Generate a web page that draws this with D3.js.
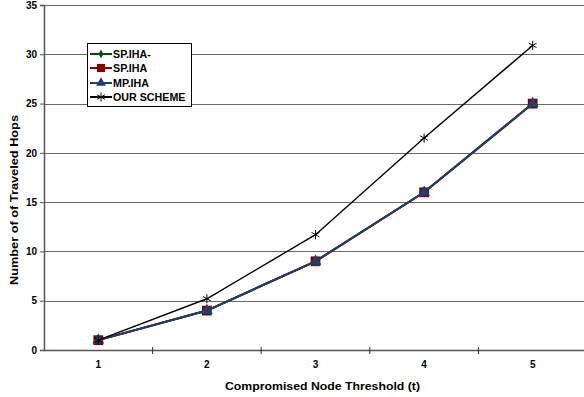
<!DOCTYPE html>
<html>
<head>
<meta charset="utf-8">
<script src="https://cdn.jsdelivr.net/npm/d3@7"></script>
<style>
body { margin: 0; background: #fff; }
svg { font-family: "Liberation Sans", Arial, sans-serif; font-weight: bold; }
</style>
</head>
<body>
<svg id="chart" width="584" height="397"></svg>
<script>
var thresholds = [1, 2, 3, 4, 5]
var yTicks = [0, 5, 10, 15, 20, 25, 30, 35]
var spIhaMinus = [1, 4, 9, 16, 25]
var spIha = [1, 4, 9, 16, 25]
var mpIha = [1, 4, 9, 16, 25]
var ourScheme = [1, 5.2, 11.7, 21.5, 30.9]

var series = [
    {name: "SP.IHA-", values: spIhaMinus, color: "#004d00", symbol: d3.symbolDiamond, size: 30, width: 2},
    {name: "SP.IHA", values: spIha, color: "#800000", symbol: d3.symbolSquare, size: 95, width: 2},
    {name: "MP.IHA", values: mpIha, color: "#1f3f6e", symbol: d3.symbolTriangle, size: 60, width: 2},
    {name: "OUR SCHEME", values: ourScheme, color: "#000000", symbol: "star", size: 0, width: 1.4}
]

var svg = d3.select("#chart")
var mLeft = 44, mRight = 587, mTop = 5, mBottom = 350

var x = d3.scaleBand().domain(thresholds).range([mLeft, mRight])
var y = d3.scaleLinear().domain([0, 35]).range([mBottom, mTop])

// gridlines
svg.append("g")
    .selectAll("line")
    .data(yTicks.filter(d => d > 0))
    .enter().append("line")
    .attr("x1", mLeft).attr("x2", 584)
    .attr("y1", d => Math.round(y(d)) + 0.5).attr("y2", d => Math.round(y(d)) + 0.5)
    .attr("stroke", "#6a6a6a").attr("stroke-width", 1)

// y axis
var yAxis = svg.append("g")
    .attr("transform", "translate(" + mLeft + ",0)")
    .call(d3.axisLeft(y).tickValues(yTicks).tickSize(4).tickPadding(3))
yAxis.select(".domain").attr("stroke", "#555").attr("stroke-width", 1.5)
yAxis.selectAll(".tick line").attr("stroke", "#555")
yAxis.selectAll("text").attr("font-size", 10).attr("fill", "#000")
    .attr("font-family", "Liberation Sans, Arial, sans-serif").attr("font-weight", "bold")

// x axis
var xAxis = svg.append("g")
    .attr("transform", "translate(0," + mBottom + ")")
    .call(d3.axisBottom(x).tickSize(0).tickPadding(11))
xAxis.select(".domain").attr("stroke", "#555").attr("stroke-width", 1.5)
xAxis.selectAll("text").attr("font-size", 10).attr("fill", "#000")
    .attr("font-family", "Liberation Sans, Arial, sans-serif").attr("font-weight", "bold")
svg.append("g")
    .selectAll("line")
    .data(thresholds.slice(1))
    .enter().append("line")
    .attr("x1", d => x(d)).attr("x2", d => x(d))
    .attr("y1", mBottom - 3).attr("y2", mBottom + 4)
    .attr("stroke", "#333")

// axis titles
svg.append("text")
    .attr("x", 225).attr("y", 390)
    .attr("font-size", 11.5)
    .attr("textLength", 195).attr("lengthAdjust", "spacingAndGlyphs")
    .text("Compromised Node Threshold (t)")
svg.append("text")
    .attr("transform", "translate(18,285) rotate(-90)")
    .attr("font-size", 11.5)
    .attr("textLength", 170).attr("lengthAdjust", "spacingAndGlyphs")
    .text("Number of of Traveled Hops")

var cx = d => x(d) + x.bandwidth() / 2

function drawMarker(g, s, px, py) {
    if (s.symbol === "star") {
        var r = 4.5
        var path = ""
        for (var i = 0; i < 3; i++) {
            var a = Math.PI / 2 + i * Math.PI / 3
            path += "M" + (px + r * Math.cos(a)) + "," + (py + r * Math.sin(a)) +
                "L" + (px - r * Math.cos(a)) + "," + (py - r * Math.sin(a))
        }
        g.append("path").attr("d", path).attr("stroke", "#000").attr("stroke-width", 1).attr("fill", "none")
    } else {
        g.append("path")
            .attr("d", d3.symbol().type(s.symbol).size(s.size)())
            .attr("transform", "translate(" + px + "," + py + ")")
            .attr("fill", s.color)
    }
}

var line = d3.line().x((d, i) => cx(thresholds[i])).y(d => y(d))

series.forEach(function(s) {
    var g = svg.append("g")
    g.append("path")
        .datum(s.values)
        .attr("d", line)
        .attr("fill", "none")
        .attr("stroke", s.color)
        .attr("stroke-width", s.width)
    s.values.forEach(function(v, i) {
        drawMarker(g, s, cx(thresholds[i]), y(v))
    })
})

// legend
var legend = svg.append("g").attr("transform", "translate(87,43)")
legend.append("rect")
    .attr("x", 0.5).attr("y", 0.5).attr("width", 104).attr("height", 63)
    .attr("fill", "#fff").attr("stroke", "#000").attr("stroke-width", 1)
var ly = [11, 25, 40, 54]
series.forEach(function(s, i) {
    var g = legend.append("g")
    g.append("line")
        .attr("x1", 3).attr("x2", 25)
        .attr("y1", ly[i]).attr("y2", ly[i])
        .attr("stroke", s.color).attr("stroke-width", 2)
    drawMarker(g, Object.assign({}, s, {size: s.size * 0.7}), 14, ly[i])
    g.append("text")
        .attr("x", 26).attr("y", ly[i] + 4)
        .attr("font-size", 10.7)
        .text(s.name)
})
</script>
</body>
</html>
